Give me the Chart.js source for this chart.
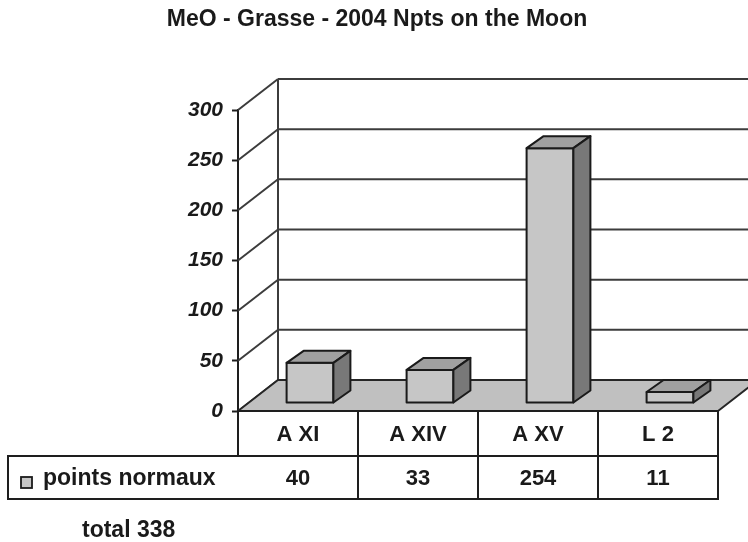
<!DOCTYPE html>
<html lang="fr">

<head>
    <meta charset="UTF-8">
    <title>MeO - Grasse - 2004 Npts on the Moon</title>
    <style>
        body {
            margin: 0;
            background: #fff;
        }

        #chart {
            display: block;
        }
    </style>
</head>

<body>
    <canvas id="chart" width="748" height="542"></canvas>

    <script src="https://cdn.jsdelivr.net/npm/chart.js"></script>
    <script>
        // Data
        const chartTitle = 'MeO - Grasse - 2004 Npts on the Moon';
        const categories = ['A XI', 'A XIV', 'A XV', 'L 2'];
        const seriesName = 'points normaux';
        const pointsNormaux = [40, 33, 254, 11];
        const yMax = 300;
        const yStep = 50;

        const FONT = '"Liberation Sans", Arial, sans-serif';
        const INK = '#1a1a1a';

        // 3D look: back wall offset, bar offset and bar depth (pixels)
        const wallDX = 40, wallDY = -31;
        const barDX = 12, barDY = -8;
        const boxDX = 17, boxDY = -12;

        function poly(ctx, pts, fill, stroke, lw) {
            ctx.beginPath();
            ctx.moveTo(pts[0][0], pts[0][1]);
            for (let i = 1; i < pts.length; i++) ctx.lineTo(pts[i][0], pts[i][1]);
            ctx.closePath();
            if (fill) { ctx.fillStyle = fill; ctx.fill(); }
            if (stroke) { ctx.strokeStyle = stroke; ctx.lineWidth = lw || 1.5; ctx.stroke(); }
        }

        function line(ctx, x1, y1, x2, y2) {
            ctx.beginPath();
            ctx.moveTo(x1, y1);
            ctx.lineTo(x2, y2);
            ctx.stroke();
        }

        // walls, floor, 3D boxes and the data table
        const box3d = {
            id: 'box3d',
            beforeDatasetsDraw(chart) {
                const { ctx, chartArea: a, scales: { y } } = chart;
                ctx.save();
                ctx.strokeStyle = '#3c3c3c';
                ctx.lineWidth = 2;
                // gridlines: diagonal on the side wall, then across the back wall
                y.ticks.forEach(t => {
                    const py = y.getPixelForValue(t.value);
                    line(ctx, a.left, py, a.left + wallDX, py + wallDY);
                    line(ctx, a.left + wallDX, py + wallDY, a.right + wallDX, py + wallDY);
                });
                line(ctx, a.left + wallDX, y.getPixelForValue(yMax) + wallDY,
                    a.left + wallDX, a.bottom + wallDY);
                // floor
                poly(ctx, [
                    [a.left, a.bottom], [a.right, a.bottom],
                    [a.right + wallDX, a.bottom + wallDY], [a.left + wallDX, a.bottom + wallDY]
                ], '#c0c0c0', '#262626', 1.8);
                ctx.restore();
            },
            afterDatasetsDraw(chart) {
                const { ctx } = chart;
                const meta = chart.getDatasetMeta(0);
                ctx.save();
                ctx.lineJoin = 'round';
                meta.data.forEach(bar => {
                    const p = bar.getProps(['x', 'y', 'base', 'width'], true);
                    const l = p.x - p.width / 2 + barDX;
                    const r = p.x + p.width / 2 + barDX;
                    const t = p.y + barDY;
                    const b = p.base + barDY;
                    poly(ctx, [[l, b], [r, b], [r, t], [l, t]], '#c6c6c6', INK, 2);
                    poly(ctx, [[l, t], [r, t], [r + boxDX, t + boxDY], [l + boxDX, t + boxDY]], '#a0a0a0', INK, 2);
                    poly(ctx, [[r, t], [r + boxDX, t + boxDY], [r + boxDX, b + boxDY], [r, b]], '#787878', INK, 2);
                });
                ctx.restore();
            },
            afterDraw(chart) {
                const { ctx, chartArea: a, scales: { x } } = chart;
                const colW = x.getPixelForValue(1) - x.getPixelForValue(0);
                const row1 = a.bottom, row2 = a.bottom + 45, row3 = a.bottom + 88;
                const legendLeft = 8;
                ctx.save();

                // title
                ctx.fillStyle = INK;
                ctx.font = 'bold 23px ' + FONT;
                ctx.textAlign = 'center';
                ctx.textBaseline = 'alphabetic';
                ctx.fillText(chartTitle, 377, 26);

                // table grid
                ctx.strokeStyle = '#1e1e1e';
                ctx.lineWidth = 2;
                ctx.strokeRect(a.left, row1, a.right - a.left, row2 - row1);
                ctx.strokeRect(legendLeft, row2, a.right - legendLeft, row3 - row2);
                for (let i = 1; i < categories.length; i++) {
                    const cx = Math.round(x.getPixelForValue(i) - colW / 2);
                    line(ctx, cx, row1, cx, row3);
                }

                // category names and values
                ctx.font = 'bold 22px ' + FONT;
                ctx.textBaseline = 'middle';
                categories.forEach((c, i) => {
                    const cx = x.getPixelForValue(i);
                    ctx.fillText(c, cx, (row1 + row2) / 2 + 1);
                    ctx.fillText(String(pointsNormaux[i]), cx, (row2 + row3) / 2 + 1);
                });

                // legend key
                ctx.fillStyle = '#c6c6c6';
                ctx.fillRect(21, 477, 11, 11);
                ctx.strokeStyle = INK;
                ctx.lineWidth = 1.8;
                ctx.strokeRect(21, 477, 11, 11);
                ctx.fillStyle = INK;
                ctx.textAlign = 'left';
                ctx.font = 'bold 23px ' + FONT;
                ctx.fillText(seriesName, 43, (row2 + row3) / 2 + 1);

                // total below the table
                const total = pointsNormaux.reduce((s, v) => s + v, 0);
                ctx.textBaseline = 'alphabetic';
                ctx.fillText('total ' + total, 82, 537);
                ctx.restore();
            }
        };

        const ctx = document.getElementById('chart').getContext('2d');
        const npChart = new Chart(ctx, {
            type: 'bar',
            data: {
                labels: categories,
                datasets: [{
                    label: seriesName,
                    data: pointsNormaux,
                    backgroundColor: 'rgba(0,0,0,0)',
                    borderWidth: 0,
                    barPercentage: 0.39,
                    categoryPercentage: 1.0
                }]
            },
            options: {
                responsive: false,
                animation: false,
                layout: {
                    padding: { top: 110, bottom: 131, left: 0, right: 30 }
                },
                plugins: {
                    legend: { display: false },
                    title: { display: false },
                    tooltip: { enabled: false }
                },
                scales: {
                    x: {
                        display: false
                    },
                    y: {
                        min: 0,
                        max: yMax,
                        afterFit(scale) {
                            scale.width = 238;
                        },
                        ticks: {
                            stepSize: yStep,
                            padding: 9,
                            color: INK,
                            font: { family: FONT, size: 21, weight: 'bold', style: 'italic' }
                        },
                        grid: {
                            drawOnChartArea: false,
                            drawTicks: true,
                            tickLength: 6,
                            tickWidth: 2,
                            tickColor: '#1e1e1e'
                        },
                        border: {
                            display: true,
                            color: '#1e1e1e',
                            width: 2
                        }
                    }
                }
            },
            plugins: [box3d]
        });
    </script>
</body>

</html>
